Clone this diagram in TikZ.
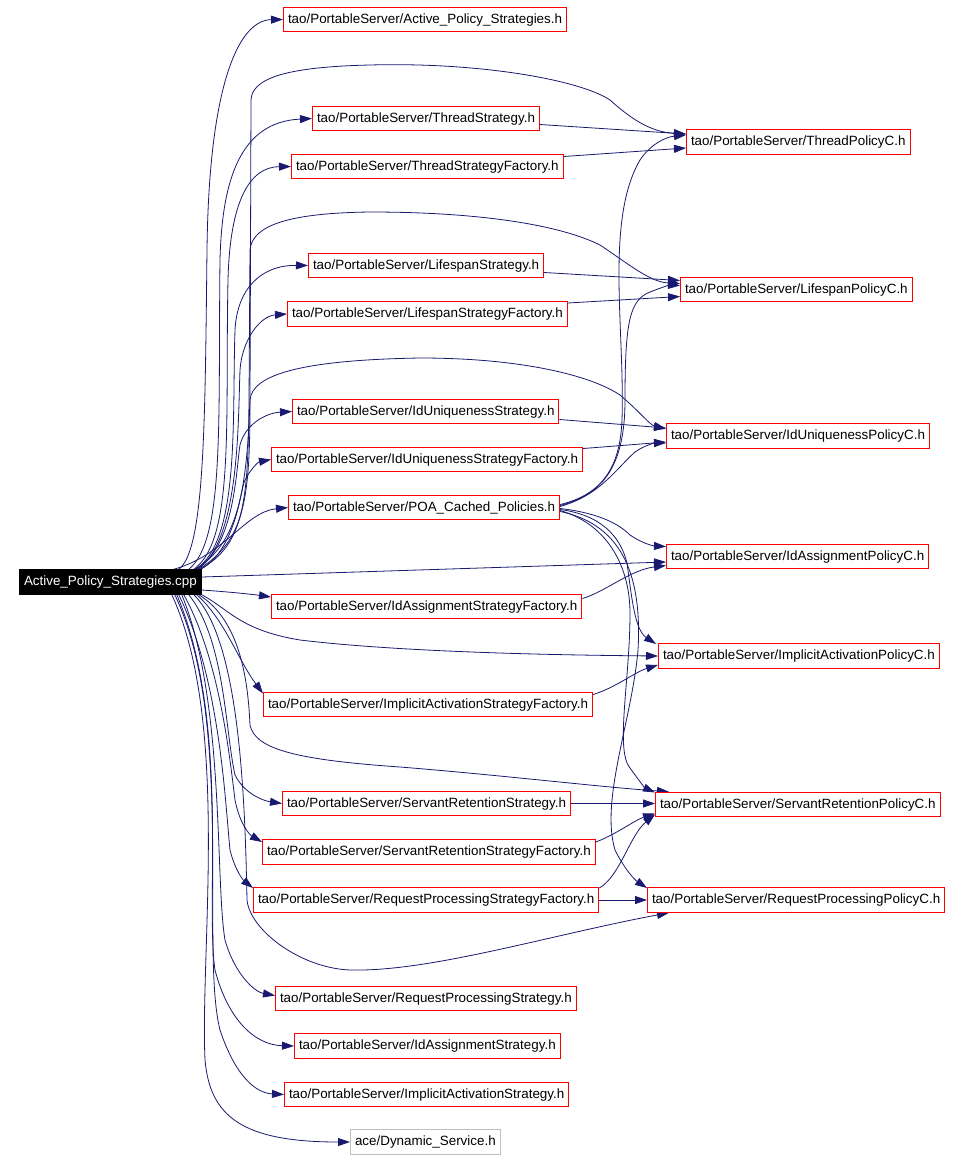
\documentclass[tikz,border=0pt]{standalone}
\usepackage{fontspec}
\setmainfont{Liberation Sans}
\usetikzlibrary{arrows.meta}
\definecolor{edgec}{RGB}{25,25,112}
\definecolor{greyb}{RGB}{191,191,191}
\pgfdeclarelayer{bg}
\pgfsetlayers{bg,main}
\begin{document}
\begin{tikzpicture}[x=1pt,y=-1pt,
  box/.style={draw=red, fill=white, line width=1pt, anchor=west, inner xsep=4.5pt, inner ysep=5.5pt,
    text height=10.5pt, text depth=3pt, font=\fontsize{13.4}{16}\selectfont},
  rootbox/.style={box, draw=black, fill=black, text=white},
  extbox/.style={box, draw=greyb},
  edge/.style={draw=edgec, line width=0.8pt, -{Triangle[length=12pt,width=8pt]}}]
\useasboundingbox (0,0) rectangle (963,1160);
% nodes
\node[rootbox] (root) at (19,582) {Active\_Policy\_Strategies.cpp};
\node[box] (aps) at (283,19.5) {tao/PortableServer/Active\_Policy\_Strategies.h};
\node[box] (ts) at (312,118.5) {tao/PortableServer/ThreadStrategy.h};
\node[box] (tsf) at (291,166.5) {tao/PortableServer/ThreadStrategyFactory.h};
\node[box] (tp) at (686,142) {tao/PortableServer/ThreadPolicyC.h};
\node[box] (ls) at (308,265.5) {tao/PortableServer/LifespanStrategy.h};
\node[box] (lsf) at (287,314) {tao/PortableServer/LifespanStrategyFactory.h};
\node[box] (lp) at (680,289.5) {tao/PortableServer/LifespanPolicyC.h};
\node[box] (ius) at (292,411.5) {tao/PortableServer/IdUniquenessStrategy.h};
\node[box] (iusf) at (271,459.5) {tao/PortableServer/IdUniquenessStrategyFactory.h};
\node[box] (iup) at (666,436) {tao/PortableServer/IdUniquenessPolicyC.h};
\node[box] (poa) at (288,507.5) {tao/PortableServer/POA\_Cached\_Policies.h};
\node[box] (iap) at (666,556.5) {tao/PortableServer/IdAssignmentPolicyC.h};
\node[box] (iasf) at (271,606.5) {tao/PortableServer/IdAssignmentStrategyFactory.h};
\node[box] (iacp) at (658,656) {tao/PortableServer/ImplicitActivationPolicyC.h};
\node[box] (iacsf) at (263,704.5) {tao/PortableServer/ImplicitActivationStrategyFactory.h};
\node[box] (srp) at (655,804.5) {tao/PortableServer/ServantRetentionPolicyC.h};
\node[box] (srs) at (282,803.5) {tao/PortableServer/ServantRetentionStrategy.h};
\node[box] (srsf) at (262,852) {tao/PortableServer/ServantRetentionStrategyFactory.h};
\node[box] (rpsf) at (253,900) {tao/PortableServer/RequestProcessingStrategyFactory.h};
\node[box] (rpp) at (647,900) {tao/PortableServer/RequestProcessingPolicyC.h};
\node[box] (rps) at (275,998.5) {tao/PortableServer/RequestProcessingStrategy.h};
\node[box] (ias) at (294,1046) {tao/PortableServer/IdAssignmentStrategy.h};
\node[box] (iacs) at (284,1094.5) {tao/PortableServer/ImplicitActivationStrategy.h};
\node[extbox] (ds) at (350,1142) {ace/Dynamic\_Service.h};
\begin{pgfonlayer}{bg}
\fill[white] (0,0) rectangle (963,1160);
% root upward
\draw[edge] ([xshift=-23]root.north east) .. controls (205,550) and (205,420) .. (207,250) .. controls (209,80) and (240,20) .. (aps.west);
\draw[edge] ([xshift=-3]root.north east) .. controls (245,540) and (250,500) .. (250,400) -- (251,100) .. controls (252,80) and (280,67) .. (370,65) .. controls (480,62) and (580,80) .. (610,100) .. controls (630,118) and (650,132) .. ([yshift=8]tp.west);
\draw[edge] ([xshift=-13]root.north east) .. controls (225,540) and (218,420) .. (220,260) .. controls (222,180) and (240,122) .. (ts.west);
\draw[edge] ([xshift=-8]root.north east) .. controls (235,540) and (225,420) .. (228,280) .. controls (230,200) and (250,167) .. (tsf.west);
\draw[edge] ([xshift=-2]root.north east) .. controls (245,545) and (248,500) .. (249,400) -- (250,250) .. controls (252,225) and (290,213) .. (370,212) .. controls (480,212) and (560,225) .. (600,245) .. controls (630,265) and (650,282) .. ([yshift=6]lp.west);
\draw[edge] ([xshift=-6]root.north east) .. controls (240,540) and (232,420) .. (235,330) .. controls (237,290) and (260,265) .. (ls.west);
\draw[edge] ([xshift=-4]root.north east) .. controls (240,540) and (238,420) .. (240,370) .. controls (242,340) and (260,316) .. (lsf.west);
\draw[edge] ([xshift=-1]root.north east) .. controls (245,545) and (248,450) .. (250,400) .. controls (252,375) and (300,360) .. (420,358) .. controls (520,358) and (590,375) .. (620,395) .. controls (640,412) and (650,425) .. ([yshift=7]iup.west);
\draw[edge] ([xshift=-5]root.north east) .. controls (235,545) and (236,470) .. (240,445) .. controls (245,425) and (265,413) .. (ius.west);
\draw[edge] ([xshift=-7]root.north east) .. controls (238,545) and (240,490) .. (245,480) .. controls (250,470) and (258,462) .. (iusf.west);
\draw[edge] ([xshift=-28]root.north east) .. controls (225,555) and (245,512) .. (poa.west);
% root straight
\draw[edge] ([yshift=5]root.east) -- ([yshift=-5.5]iap.west);
\draw[edge] ([yshift=-8]root.east) .. controls (230,592) and (250,594) .. ([yshift=9.5]iasf.west);
% root downward
\draw[edge] (root.south east) .. controls (230,610) and (240,630) .. (300,640) .. controls (400,652) and (550,655) .. (iacp.west);
\draw[edge] ([xshift=-5]root.south east) .. controls (225,620) and (238,660) .. ([yshift=11]iacsf.west);
\draw[edge] ([xshift=-3]root.south east) .. controls (240,620) and (248,680) .. (250,725) .. controls (255,750) and (300,760) .. (400,767) .. controls (500,775) and (600,787) .. ([xshift=14]srp.north west);
\draw[edge] ([xshift=-13]root.south east) .. controls (225,640) and (225,730) .. (235,775) .. controls (245,795) and (265,801) .. (srs.west);
\draw[edge] ([xshift=-18]root.south east) .. controls (220,660) and (230,760) .. (235,800) .. controls (240,825) and (250,835) .. ([yshift=10]srsf.west);
\draw[edge] ([xshift=-23]root.south east) .. controls (220,680) and (225,800) .. (230,850) .. controls (235,870) and (243,880) .. ([yshift=12]rpsf.west);
\draw[edge] ([xshift=-8]root.south east) .. controls (240,640) and (245,800) .. (247,900) .. controls (250,930) and (300,968) .. (350,970) .. controls (430,972) and (550,935) .. ([xshift=22]rpp.south west);
\draw[edge] ([xshift=-20]root.south east) .. controls (225,700) and (215,880) .. (225,940) .. controls (235,975) and (255,992) .. ([yshift=3]rps.west);
\draw[edge] ([xshift=-25]root.south east) .. controls (230,720) and (205,900) .. (215,970) .. controls (228,1020) and (255,1045) .. (ias.west);
\draw[edge] ([xshift=-27]root.south east) .. controls (235,720) and (200,950) .. (220,1030) .. controls (235,1075) and (255,1093) .. (iacs.west);
\draw[edge] ([xshift=-30]root.south east) .. controls (230,720) and (200,950) .. (205,1060) .. controls (210,1115) and (240,1142) .. (ds.west);
% strategy -> policy
\draw[edge] ([yshift=-6]ts.east) -- ([yshift=8]tp.west);
\draw[edge] ([yshift=10]tsf.east) -- ([yshift=-6]tp.west);
\draw[edge] ([yshift=-7]ls.east) -- ([yshift=9]lp.west);
\draw[edge] ([yshift=11]lsf.east) -- ([yshift=-7]lp.west);
\draw[edge] ([yshift=-8]ius.east) -- ([yshift=8]iup.west);
\draw[edge] ([yshift=11]iusf.east) -- ([yshift=-6]iup.west);
\draw[edge] ([yshift=8]iasf.east) .. controls (605,592) and (630,570) .. ([yshift=-9]iap.west);
\draw[edge] ([yshift=10]iacsf.east) .. controls (615,688) and (635,672) .. ([yshift=-9]iacp.west);
\draw[edge] (srs.east) -- (srs.east -| srp.west);
\draw[edge] ([yshift=10]srsf.east) .. controls (615,835) and (635,820) .. ([yshift=-9]srp.west);
\draw[edge] ([yshift=12]rpsf.east) .. controls (620,876) and (630,835) .. ([yshift=-10]srp.west);
\draw[edge] (rpsf.east) -- (rpp.west);
% POA -> policies
\draw[edge] ([yshift=3]poa.east) .. controls (600,495) and (620,470) .. (622,420) .. controls (625,330) and (605,220) .. (640,160) .. controls (650,145) and (665,137) .. ([yshift=7]tp.west);
\draw[edge] ([yshift=2]poa.east) .. controls (600,495) and (625,470) .. (625,400) .. controls (625,320) and (630,300) .. (650,292) .. controls (660,288) and (670,285) .. ([yshift=4]lp.west);
\draw[edge] ([yshift=1]poa.east) .. controls (600,495) and (615,470) .. (635,452) .. controls (645,445) and (655,443) .. ([yshift=-7]iup.west);
\draw[edge] ([yshift=-1]poa.east) .. controls (590,512) and (615,520) .. (630,535) .. controls (645,545) and (655,546) .. ([yshift=10]iap.west);
\draw[edge] ([yshift=-2]poa.east) .. controls (600,515) and (620,535) .. (627,563) .. controls (632,600) and (635,630) .. ([xshift=-2,yshift=12]iacp.west);
\draw[edge] ([yshift=-3]poa.east) .. controls (610,525) and (630,570) .. (630,613) .. controls (630,680) and (615,750) .. (630,768) .. controls (640,782) and (645,788) .. ([yshift=12]srp.west);
\draw[edge] ([yshift=-4]poa.east) .. controls (625,525) and (642,580) .. (638,650) .. controls (632,720) and (600,800) .. (615,850) .. controls (625,870) and (635,880) .. ([yshift=12]rpp.west);
\end{pgfonlayer}
\end{tikzpicture}
\end{document}
